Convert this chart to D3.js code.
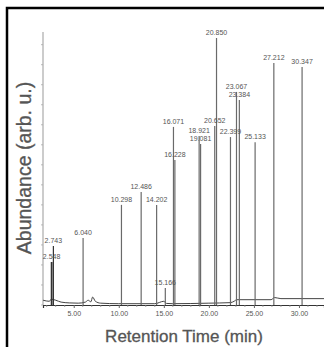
<!DOCTYPE html>
<html>
<head>
<meta charset="utf-8">
<script src="https://cdn.jsdelivr.net/npm/d3@7"></script>
<style>
  body { margin: 0; background: #fff; }
  text { font-family: "Liberation Sans", Arial, sans-serif; }
</style>
</head>
<body>
<div id="chart"></div>
<script>
// peak retention times (min) and heights (arb. u., tallest = 100)
const peakTimes = [2.548, 2.743, 6.040, 10.298, 12.486, 14.202, 15.166, 16.071, 16.228,
  18.921, 19.081, 20.652, 20.850, 22.399, 23.067, 23.384, 25.133, 27.212, 30.347]
const peakHeights = [16.1, 22.1, 25.1, 37.5, 42.3, 37.5, 6.4, 66.7, 54.3,
  63.3, 60.3, 67.0, 100, 62.9, 79.8, 76.8, 61.0, 90.6, 89.1]
const peakLabels = ["2.548", "2.743", "6.040", "10.298", "12.486", "14.202", "15.166", "16.071", "16.228",
  "18.921", "19.081", "20.652", "20.850", "22.399", "23.067", "23.384", "25.133", "27.212", "30.347"]

// baseline
const baseTimes = [1.6, 2.3, 2.5, 3.0, 3.6, 4.5, 5.5, 6.3, 6.6, 6.9, 7.1, 7.4, 8.0, 10, 14, 15.0, 15.3, 16, 20, 22.4, 22.8, 23.1, 26.9, 27.3, 28, 32.8]
const baseValues = [1.6, 1.2, 2.0, 1.6, 0.9, 0.6, 0.5, 0.9, 1.6, 1.0, 2.8, 1.2, 0.5, 0.3, 0.3, 1.2, 0.4, 0.3, 0.5, 0.7, 1.2, 1.8, 1.8, 2.6, 2.2, 2.2]

const xTicks = [5, 10, 15, 20, 25, 30]

const width = 324, height = 347
const svg = d3.select('#chart').append('svg')
  .attr('width', width).attr('height', height)

// outer frame (cropped on the right and bottom)
svg.append('rect')
  .attr('x', 7).attr('y', 8).attr('width', 400).attr('height', 400)
  .attr('fill', 'none').attr('stroke', '#000').attr('stroke-width', 2.5)

const x = d3.scaleLinear().domain([1.59, 32.78]).range([43, 324])
const y = d3.scaleLinear().domain([0, 100]).range([305, 38])

// y axis: plain grey line with small ticks
svg.append('line')
  .attr('x1', 43).attr('x2', 43).attr('y1', 32).attr('y2', y(0))
  .attr('stroke', '#999').attr('stroke-width', 1)
svg.selectAll('.ytick')
  .data(d3.range(0, 101, 7.5))
  .enter().append('line')
  .attr('class', 'ytick')
  .attr('x1', 41).attr('x2', 43)
  .attr('y1', d => y(d)).attr('y2', d => y(d))
  .attr('stroke', '#aaa').attr('stroke-width', 0.8)

// x axis
const xAxis = d3.axisBottom(x)
  .tickValues(xTicks)
  .tickFormat(d3.format('.2f'))
  .tickSize(3)
  .tickPadding(3)
const gx = svg.append('g')
  .attr('transform', `translate(0,${y(0)})`)
  .call(xAxis)
gx.select('.domain').attr('stroke', '#333').attr('stroke-width', 1.2)
gx.selectAll('.tick line').attr('stroke', '#666')
gx.selectAll('.tick text').attr('fill', '#555').style('font-size', '7px')
gx.selectAll('.minor')
  .data(d3.range(2, 33, 1).filter(d => d % 5 !== 0))
  .enter().append('line')
  .attr('x1', d => x(d)).attr('x2', d => x(d))
  .attr('y1', 0).attr('y2', 2)
  .attr('stroke', '#888').attr('stroke-width', 0.8)

// baseline of the trace
const baseLine = d3.line()
  .x(d => x(d[0]))
  .y(d => y(d[1]) - 0.5)
  .curve(d3.curveMonotoneX)
svg.append('path')
  .datum(baseTimes.map((t, i) => [t, baseValues[i]]))
  .attr('d', baseLine)
  .attr('fill', 'none')
  .attr('stroke', '#444')
  .attr('stroke-width', 1)

// peaks
const peaks = peakTimes.map((t, i) => ({t: t, h: peakHeights[i], label: peakLabels[i]}))
svg.selectAll('.peak')
  .data(peaks)
  .enter().append('line')
  .attr('class', 'peak')
  .attr('x1', d => x(d.t)).attr('x2', d => x(d.t))
  .attr('y1', y(0)).attr('y2', d => y(d.h))
  .attr('stroke', d => d.t < 3 ? '#333' : '#6a6a6a')
  .attr('stroke-width', d => d.t === 2.548 ? 1.8 : 1.2)

svg.selectAll('.plabel')
  .data(peaks)
  .enter().append('text')
  .attr('class', 'plabel')
  .attr('x', d => x(d.t))
  .attr('y', d => y(d.h) - 3)
  .attr('text-anchor', 'middle')
  .attr('fill', '#555')
  .style('font-size', '7px')
  .text(d => d.label)

// axis titles
svg.append('text')
  .attr('transform', 'translate(31,168) rotate(-90)')
  .attr('text-anchor', 'middle')
  .attr('fill', '#555')
  .attr('stroke', '#555').attr('stroke-width', 0.3)
  .style('font-size', '19.5px')
  .text('Abundance (arb. u.)')

svg.append('text')
  .attr('x', 184).attr('y', 342)
  .attr('text-anchor', 'middle')
  .attr('fill', '#555')
  .attr('stroke', '#555').attr('stroke-width', 0.3)
  .style('font-size', '17px')
  .text('Retention Time (min)')
</script>
</body>
</html>
